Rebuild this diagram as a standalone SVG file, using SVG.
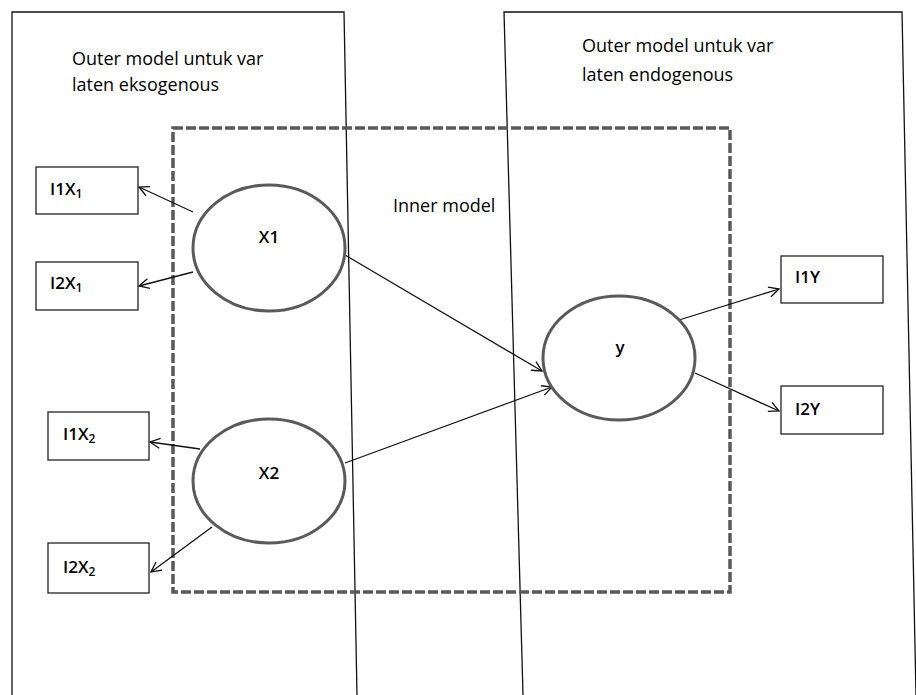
<svg xmlns="http://www.w3.org/2000/svg" width="916" height="695" viewBox="0 0 916 695">
<style>
  text { font-family: "Open Sans", "Liberation Sans", sans-serif; fill: #000; }
  .note { font-size: 18px; }
  .lbl { font-size: 17px; font-weight: 600; }
  .sub { font-size: 12px; }
  .panel { fill: none; stroke: #111; stroke-width: 1.3; }
  .inner { fill: none; stroke: #595959; stroke-width: 3.5; stroke-dasharray: 10 3; }
  .box { fill: #fff; stroke: #222; stroke-width: 1.3; }
  .lv { fill: #fff; stroke: #5a5a5a; stroke-width: 3; }
  .edge { fill: none; stroke: #111; stroke-width: 1.3; marker-end: url(#arr); }
</style>
<defs>
  <marker id="arr" viewBox="0 0 12 12" refX="11" refY="6" markerWidth="12" markerHeight="12" markerUnits="userSpaceOnUse" orient="auto">
    <path d="M1,1 L11,6 L1,11" fill="none" stroke="#111" stroke-width="1.3"/>
  </marker>
</defs>
<rect x="0" y="0" width="916" height="695" fill="#fff"/>

<g id="panel-exogenous">
  <path class="panel" d="M12,695 L12,12 L344,12 L357,695"/>
  <text class="note" x="72" y="65">Outer model untuk var</text>
  <text class="note" x="72" y="91">laten eksogenous</text>
</g>
<g id="panel-endogenous">
  <path class="panel" d="M523,695 L504,12 L902,12 L916,695"/>
  <text class="note" x="582" y="52">Outer model untuk var</text>
  <text class="note" x="582" y="81">laten endogenous</text>
</g>
<g id="inner-model">
  <rect class="inner" x="173" y="128" width="557" height="464"/>
  <text class="note" x="393" y="212">Inner model</text>
</g>

<g id="connectors">
  <line class="edge" x1="193" y1="212" x2="139" y2="187"/>
  <line class="edge" x1="193" y1="272" x2="139" y2="286"/>
  <line class="edge" x1="200" y1="449" x2="150" y2="442"/>
  <line class="edge" x1="212" y1="527" x2="151" y2="572"/>
  <line class="edge" x1="345" y1="255" x2="542" y2="371"/>
  <line class="edge" x1="345" y1="463" x2="552" y2="387"/>
  <line class="edge" x1="679" y1="320" x2="779" y2="289"/>
  <line class="edge" x1="695" y1="373" x2="779" y2="411"/>
</g>

<g id="node-X1">
  <ellipse class="lv" cx="269" cy="248" rx="76" ry="63"/>
  <text class="lbl" x="269" y="243" text-anchor="middle">X1</text>
</g>
<g id="node-X2">
  <ellipse class="lv" cx="269" cy="481" rx="76" ry="62"/>
  <text class="lbl" x="269" y="479" text-anchor="middle">X2</text>
</g>
<g id="node-y">
  <ellipse class="lv" cx="619" cy="358" rx="76" ry="62"/>
  <text class="lbl" x="620" y="353" text-anchor="middle">y</text>
</g>

<g id="node-I1X1">
  <rect class="box" x="36" y="167" width="102" height="47"/>
  <text class="lbl" x="50" y="195">I1X<tspan class="sub" dy="3">1</tspan></text>
</g>
<g id="node-I2X1">
  <rect class="box" x="36" y="262" width="102" height="48"/>
  <text class="lbl" x="50" y="289">I2X<tspan class="sub" dy="3">1</tspan></text>
</g>
<g id="node-I1X2">
  <rect class="box" x="48" y="412" width="101" height="48"/>
  <text class="lbl" x="63" y="440">I1X<tspan class="sub" dy="3">2</tspan></text>
</g>
<g id="node-I2X2">
  <rect class="box" x="48" y="543" width="101" height="50"/>
  <text class="lbl" x="63" y="573">I2X<tspan class="sub" dy="3">2</tspan></text>
</g>
<g id="node-I1Y">
  <rect class="box" x="781" y="256" width="102" height="47"/>
  <text class="lbl" x="795" y="283">I1Y</text>
</g>
<g id="node-I2Y">
  <rect class="box" x="781" y="386" width="102" height="48"/>
  <text class="lbl" x="795" y="415">I2Y</text>
</g>
</svg>
